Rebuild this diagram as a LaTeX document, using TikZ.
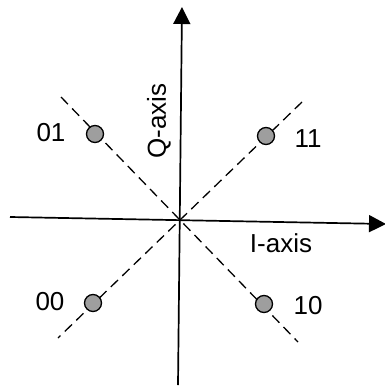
\documentclass[tikz,border=0pt]{standalone}
\usepackage{fontspec}
\setmainfont{Liberation Sans}
\usetikzlibrary{arrows.meta}
\begin{document}
\begin{tikzpicture}[x=1pt,y=-1pt,
  axis/.style={line width=1.7pt,-{Triangle[length=17pt,width=17pt]}},
  diag/.style={line width=1.3pt,dash pattern=on 10pt off 6pt},
  sym/.style={circle,draw=black,line width=1.3pt,fill=black!38,minimum size=17pt,inner sep=0pt},
  lbl/.style={font=\fontsize{26}{30}\selectfont,inner sep=0pt}]
\useasboundingbox (0,0) rectangle (385,388);
\coordinate (xl) at (10,217);
\coordinate (xr) at (386,224);
\coordinate (yb) at (178,385);
\coordinate (yt) at (182,7);
\coordinate (nw) at (61,97);
\coordinate (se) at (298,342);
\coordinate (ne) at (302,102);
\coordinate (sw) at (58,338);
\draw[diag] (nw) -- (se);
\draw[diag] (ne) -- (sw);
\draw[axis] (xl) -- (xr);
\draw[axis] (yb) -- (yt);
\node[sym] (s01) at (95,134) {};
\node[sym] (s11) at (266,136) {};
\node[sym] (s00) at (93,303) {};
\node[sym] (s10) at (264,304) {};
\node[lbl] (l01) at (51,133) {01};
\node[lbl] (l11) at (308,139) {11};
\node[lbl] (l00) at (50,302) {00};
\node[lbl] (l10) at (308,306) {10};
\node[lbl,rotate=90] (qa) at (159,121) {Q-axis};
\node[lbl] (ia) at (281,243) {I-axis};
\end{tikzpicture}
\end{document}
